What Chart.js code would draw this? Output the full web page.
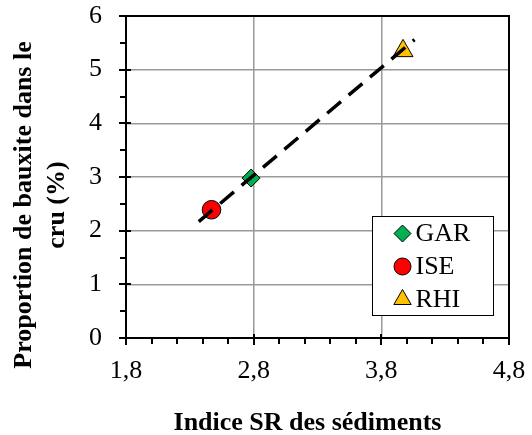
<!DOCTYPE html>
<html>
<head>
<meta charset="utf-8">
<title>Proportion de bauxite / indice SR</title>
<script src="https://cdn.jsdelivr.net/npm/chart.js@4.4.1/dist/chart.umd.min.js"></script>
<style>
    html, body { margin: 0; padding: 0; background: #fff; }
</style>
</head>
<body>
<canvas id="chart" width="532" height="435"></canvas>
<script>
var seriesNames = ['GAR', 'ISE', 'RHI'];
var sedimentSR = [2.78, 2.47, 3.97];
var bauxitePercent = [2.98, 2.39, 5.35];

// dashed trend line, read from its two ends
var trendSR = [2.37, 4.06];
var trendBauxite = [2.17, 5.56];

var xMajorTicks = [1.8, 2.8, 3.8, 4.8];
var yMajorTicks = [0, 1, 2, 3, 4, 5, 6];

var xTitle = 'Indice SR des sédiments';
var yTitle = ['Proportion de bauxite dans le', 'cru (%)'];

var markerStyles = [
    { pointStyle: 'rectRot', color: '#00B050', radius: 9, legendRadius: 8.5 },
    { pointStyle: 'circle', color: '#FF0000', radius: 9.3, legendRadius: 8.5 },
    { pointStyle: 'triangle', color: '#FFC000', radius: 11.5, legendRadius: 10 }
];

var FONT = '"Liberation Serif", "Times New Roman", serif';

function isMajor(value, majors)
{
    return majors.some(m => Math.abs(m - value) < 1e-6);
}

function gridColor(ctx, majors, scaleMin, scaleMax)
{
    let v = ctx.tick.value;
    if (!isMajor(v, majors) || Math.abs(v - scaleMin) < 1e-6 || Math.abs(v - scaleMax) < 1e-6) {
        return 'rgba(0,0,0,0)';
    }
    return '#9a9a9a';
}

// the plot box is fixed by layout.padding, so drop the room chart.js keeps for edge labels
function fixScale(s, size)
{
    if (s.isHorizontal()) {
        s.height = size;
    } else {
        s.width = size;
    }
    s.paddingTop = 0;
    s.paddingBottom = 0;
    s.paddingLeft = 0;
    s.paddingRight = 0;
}

var datasets = seriesNames.map((name, i) => ({
    label: name,
    data: [{ x: sedimentSR[i], y: bauxitePercent[i] }],
    pointStyle: markerStyles[i].pointStyle,
    pointRadius: markerStyles[i].radius,
    pointHoverRadius: markerStyles[i].radius,
    pointBackgroundColor: markerStyles[i].color,
    pointBorderColor: '#000',
    pointBorderWidth: 1,
    order: 1
}));

datasets.push({
    label: 'Tendance',
    data: trendSR.map((x, i) => ({ x: x, y: trendBauxite[i] })),
    showLine: true,
    borderColor: '#000',
    borderWidth: 3.5,
    borderDash: [18, 10],
    pointRadius: 0,
    pointHoverRadius: 0,
    fill: false,
    order: 0
});

// frame, minor/major tick marks, legend box and axis titles
var decorPlugin = {
    id: 'decor',
    beforeDatasetsDraw(chart) {
        const ctx = chart.ctx, a = chart.chartArea;
        const xs = chart.scales.x, ys = chart.scales.y;
        ctx.save();
        ctx.strokeStyle = '#000';
        ctx.lineWidth = 2;
        ctx.beginPath();
        xs.ticks.forEach(t => {
            let px = Math.round(xs.getPixelForValue(t.value));
            if (isMajor(t.value, xMajorTicks)) {
                ctx.moveTo(px, a.bottom - 4);
                ctx.lineTo(px, a.bottom + 7);
            } else {
                ctx.moveTo(px, a.bottom);
                ctx.lineTo(px, a.bottom + 6);
            }
        });
        ys.ticks.forEach(t => {
            let py = Math.round(ys.getPixelForValue(t.value));
            if (isMajor(t.value, yMajorTicks)) {
                ctx.moveTo(a.left - 7, py);
                ctx.lineTo(a.left + 5, py);
            } else {
                ctx.moveTo(a.left - 6, py);
                ctx.lineTo(a.left, py);
            }
        });
        ctx.stroke();
        ctx.strokeRect(a.left, a.top, a.right - a.left, a.bottom - a.top);
        ctx.restore();
    },
    afterDraw(chart) {
        const ctx = chart.ctx, a = chart.chartArea;
        ctx.save();

        // legend
        let boxW = 121, boxH = 99;
        let bx = Math.round(a.right - 16 - boxW) + 0.5;
        let by = Math.round(a.bottom - 23 - boxH) + 0.5;
        ctx.fillStyle = '#fff';
        ctx.fillRect(bx, by, boxW, boxH);
        ctx.strokeStyle = '#000';
        ctx.lineWidth = 1;
        ctx.strokeRect(bx, by, boxW, boxH);
        seriesNames.forEach((name, i) => {
            let cy = by + 17 + i * 33;
            let st = markerStyles[i];
            ctx.fillStyle = st.color;
            ctx.strokeStyle = '#000';
            ctx.lineWidth = 1;
            Chart.helpers.drawPoint(ctx, { pointStyle: st.pointStyle, radius: st.legendRadius, rotation: 0, borderWidth: 1 }, bx + 30, cy);
            ctx.fillStyle = '#000';
            ctx.font = '26px ' + FONT;
            ctx.textAlign = 'left';
            ctx.textBaseline = 'middle';
            ctx.fillText(name, bx + 43, cy + 1);
        });

        // axis titles
        ctx.fillStyle = '#000';
        ctx.font = 'bold 26px ' + FONT;
        ctx.textAlign = 'center';
        ctx.textBaseline = 'alphabetic';
        ctx.fillText(xTitle, (a.left + a.right) / 2 - 10, a.bottom + 92);

        ctx.translate(0, (a.top + a.bottom) / 2 + 28);
        ctx.rotate(-Math.PI / 2);
        ctx.textBaseline = 'middle';
        ctx.fillText(yTitle[0], 0, 24);
        ctx.fillText(yTitle[1], 0, 57);
        ctx.restore();
    }
};

new Chart(document.getElementById('chart'), {
    type: 'scatter',
    data: { datasets: datasets },
    options: {
        responsive: false,
        animation: false,
        layout: { padding: { top: 16, right: 23, left: 0, bottom: 0 } },
        plugins: {
            legend: { display: false },
            tooltip: { enabled: false },
            title: { display: false }
        },
        scales: {
            x: {
                type: 'linear',
                min: 1.8,
                max: 4.8,
                border: { display: false },
                grid: {
                    drawTicks: false,
                    lineWidth: 1.5,
                    color: ctx => gridColor(ctx, xMajorTicks, 1.8, 4.8)
                },
                ticks: {
                    stepSize: 0.2,
                    autoSkip: false,
                    maxRotation: 0,
                    padding: 18,
                    color: '#000',
                    font: { family: FONT, size: 26 },
                    callback: v => isMajor(v, xMajorTicks) ? v.toFixed(1).replace('.', ',') : ''
                },
                afterFit: s => fixScale(s, 97)
            },
            y: {
                type: 'linear',
                min: 0,
                max: 6,
                border: { display: false },
                grid: {
                    drawTicks: false,
                    lineWidth: 1.5,
                    color: ctx => gridColor(ctx, yMajorTicks, 0, 6)
                },
                ticks: {
                    stepSize: 0.5,
                    autoSkip: false,
                    padding: 24,
                    color: '#000',
                    font: { family: FONT, size: 26 },
                    callback: v => isMajor(v, yMajorTicks) ? String(Math.round(v)) : ''
                },
                afterFit: s => fixScale(s, 126)
            }
        }
    },
    plugins: [decorPlugin]
});
</script>
</body>
</html>
